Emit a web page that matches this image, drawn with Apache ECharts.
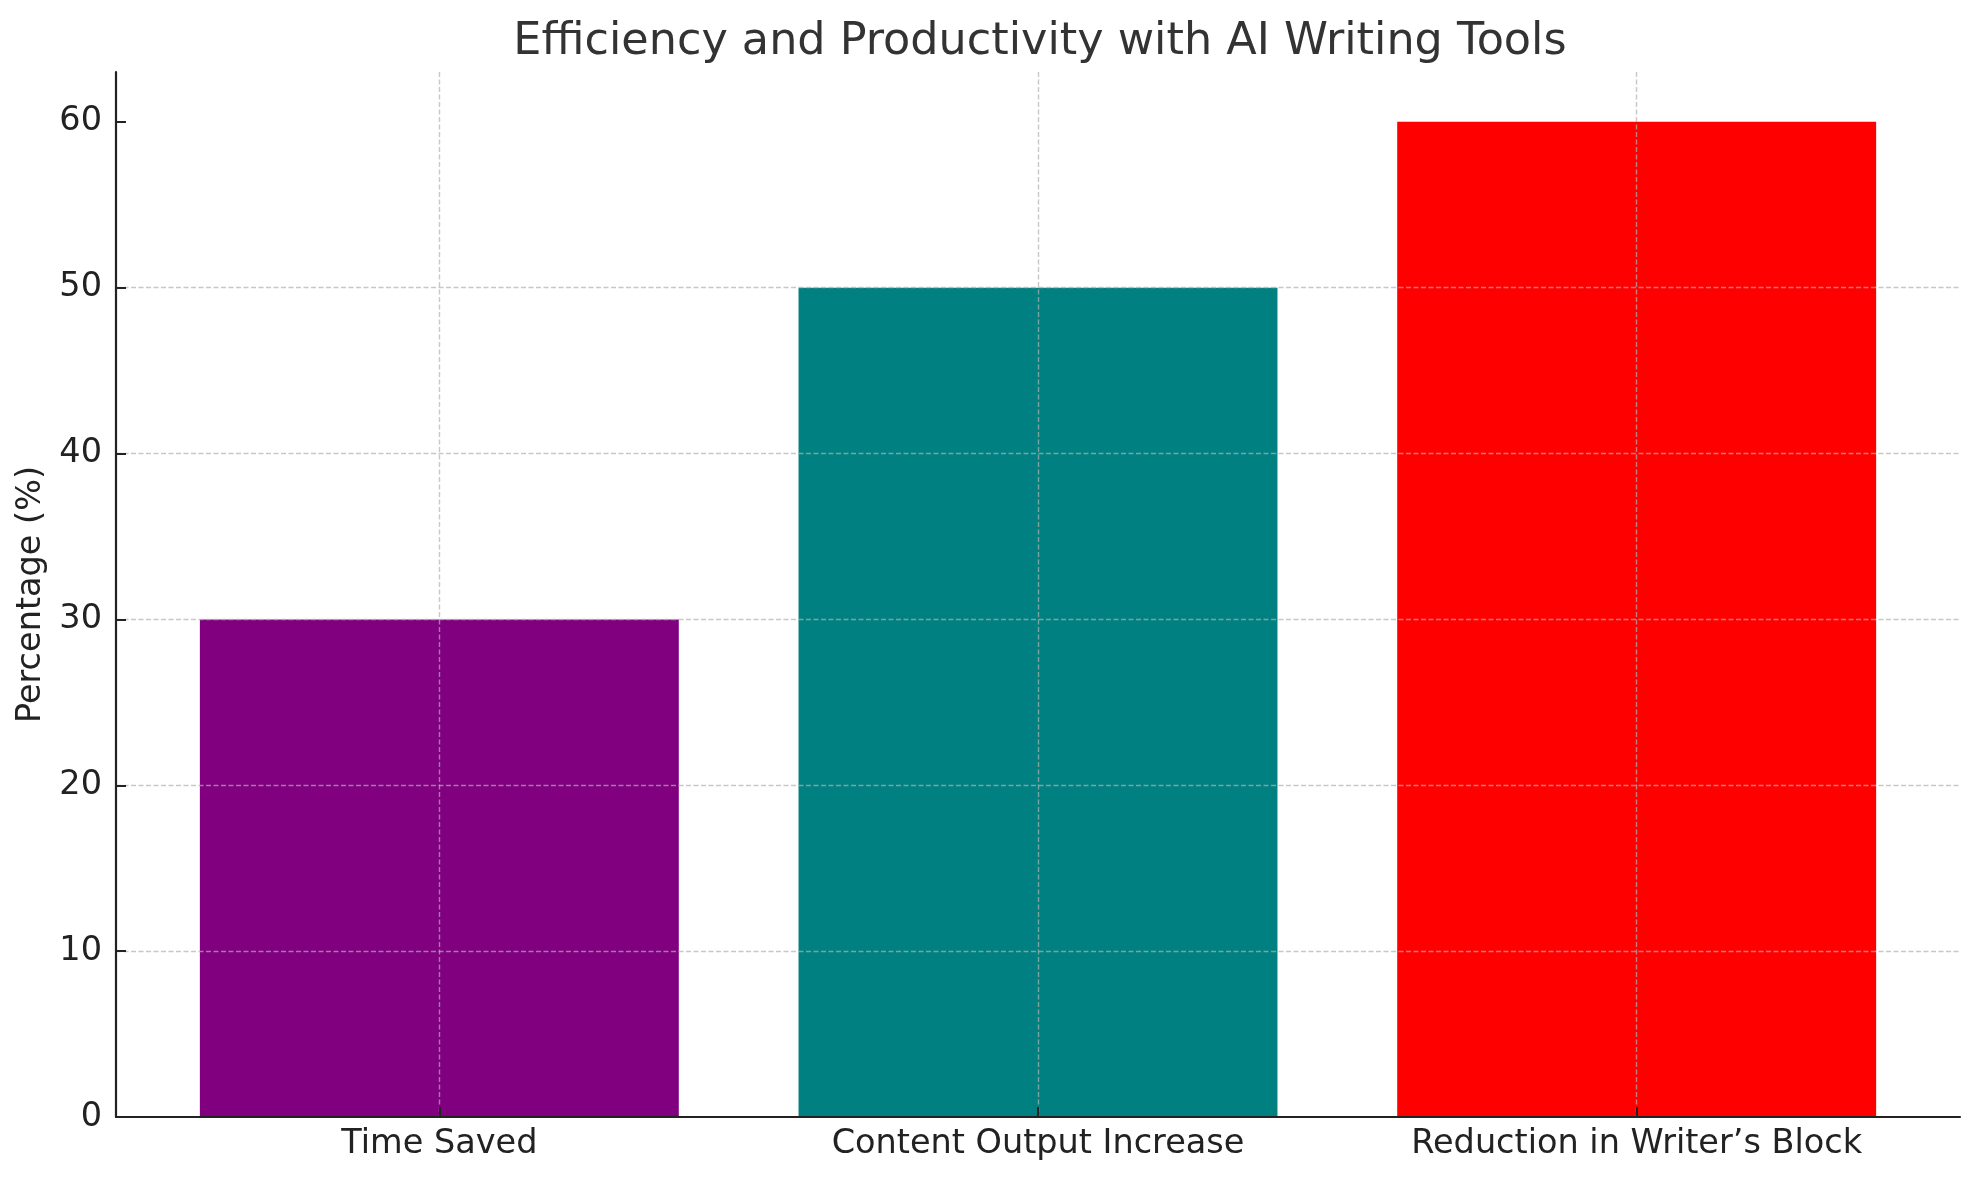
<!DOCTYPE html>
<html>
<head>
<meta charset="utf-8">
<title>Efficiency and Productivity with AI Writing Tools</title>
<script src="https://cdn.jsdelivr.net/npm/echarts@6/dist/echarts.min.js"></script>
<style>
  html, body { margin: 0; padding: 0; background: #fff; }
  #chart { width: 1979px; height: 1180px; }
</style>
</head>
<body>
<div id="chart"></div>
<script>
	var categories = ['Time Saved', 'Content Output Increase', 'Reduction in Writer\u2019s Block'];
	var percentages = [30, 50, 60];
	var barColors = ['#800080', '#008080', '#ff0000'];
	var yTicks = [0, 10, 20, 30, 40, 50, 60];

	var font = 'DejaVu Sans';
	var yMax = 63;
	var gridLine = { show: true, lineStyle: { color: 'rgba(176,176,176,0.7)', width: 1.4, type: [5, 2.5] } };

	var chart = echarts.init(document.getElementById('chart'));

	var barData = percentages.map(function (v, i) {
		return { value: v, itemStyle: { color: barColors[i] } };
	});

	chart.setOption({
		backgroundColor: '#fff',
		animation: false,
		title: {
			text: 'Efficiency and Productivity with AI Writing Tools',
			left: 1035, textAlign: 'center', top: 15,
			textStyle: { fontFamily: font, fontSize: 44.5, fontWeight: 'normal', color: '#333' }
		},
		grid: [
			// plot area for the bars (band axis is inset inside the frame)
			{ left: 140, right: 43, top: 72, bottom: 63 },
			// frame: spines, y ticks and horizontal grid over the full width
			{ left: 116, right: 19, top: 72, bottom: 63 }
		],
		xAxis: [
			{
				type: 'category', gridIndex: 0, data: categories, z: 5,
				axisLine: { show: false },
				axisTick: { show: true, inside: true, alignWithLabel: true, length: 10,
					lineStyle: { color: '#222', width: 2 } },
				axisLabel: { margin: 10, fontFamily: font, fontSize: 33.5, color: '#222' },
				splitLine: Object.assign({ alignWithLabel: true }, gridLine)
			},
			{
				type: 'value', gridIndex: 1, min: 0, max: 1, z: 6,
				axisLine: { show: true, lineStyle: { color: '#222', width: 2.2 } },
				axisTick: { show: false }, axisLabel: { show: false }, splitLine: { show: false }
			}
		],
		yAxis: [
			{
				type: 'value', gridIndex: 0, min: 0, max: yMax, show: false
			},
			{
				type: 'value', gridIndex: 1, min: 0, max: yMax, interval: 10, z: 5,
				name: 'Percentage (%)', nameLocation: 'middle', nameGap: 55,
				nameTextStyle: { fontFamily: font, fontSize: 33.5, color: '#222' },
				axisLine: { show: true, lineStyle: { color: '#222', width: 2.2 } },
				axisTick: { show: true, inside: true, length: 10, customValues: yTicks,
					lineStyle: { color: '#222', width: 2 } },
				axisLabel: { margin: 14, fontFamily: font, fontSize: 33.5, color: '#222', customValues: yTicks },
				splitLine: Object.assign({ showMinLine: false, showMaxLine: false }, gridLine)
			}
		],
		series: [
			{
				type: 'bar', xAxisIndex: 0, yAxisIndex: 0,
				data: barData, barWidth: '80%'
			}
		]
	});
</script>
</body>
</html>
